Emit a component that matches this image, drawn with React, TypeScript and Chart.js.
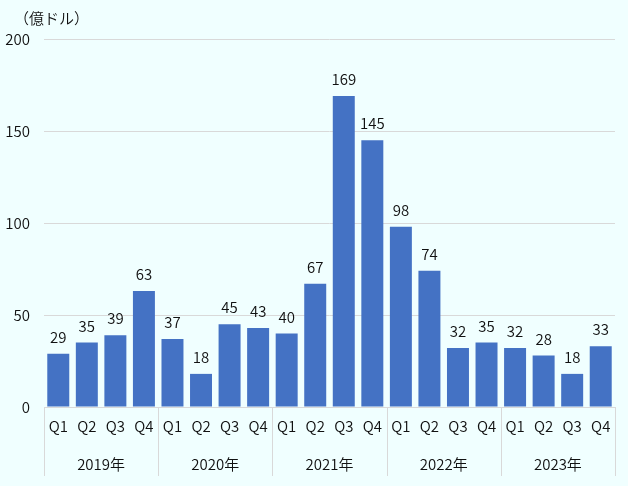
import { useEffect, useRef } from "react";
import { Chart, registerables } from "chart.js";

Chart.register(...registerables);

const quarters = [
  "Q1", "Q2", "Q3", "Q4", "Q1", "Q2", "Q3", "Q4", "Q1", "Q2",
  "Q3", "Q4", "Q1", "Q2", "Q3", "Q4", "Q1", "Q2", "Q3", "Q4",
];
const years = ["2019年", "2020年", "2021年", "2022年", "2023年"];
const values = [29, 35, 39, 63, 37, 18, 45, 43, 40, 67, 169, 145, 98, 74, 32, 35, 32, 28, 18, 33];
const yTicks = [0, 50, 100, 150, 200];
const unitLabel = "（億ドル）";

const FONT = "'Noto Sans CJK JP', 'Noto Sans', sans-serif";
const TEXT = "#111111";
const LINE = "#d9d9d9";
const WEIGHT = 350;

// draws value labels, year groups with separators, and the unit label
const extrasPlugin = {
  id: "extras",
  afterDatasetsDraw(chart: any) {
    const { ctx, scales } = chart;
    const x = scales.x;
    const meta = chart.getDatasetMeta(0);
    ctx.save();
    ctx.fillStyle = TEXT;
    ctx.font = `${WEIGHT} 15px ${FONT}`;
    ctx.textAlign = "center";
    ctx.textBaseline = "bottom";
    meta.data.forEach((bar: any, i: number) => {
      ctx.fillText(String(values[i]), bar.x, bar.y - 9);
    });

    const half = (x.getPixelForValue(1) - x.getPixelForValue(0)) / 2;
    const bottom = chart.chartArea.bottom;
    ctx.strokeStyle = LINE;
    ctx.lineWidth = 1;
    for (let g = 0; g <= years.length; g++) {
      const idx = Math.min(g * 4, quarters.length - 1);
      const px = g * 4 < quarters.length ? x.getPixelForValue(idx) - half : x.getPixelForValue(idx) + half;
      const xx = Math.round(px) + 0.5;
      ctx.beginPath();
      ctx.moveTo(xx, bottom);
      ctx.lineTo(xx, bottom + 69);
      ctx.stroke();
    }
    ctx.textBaseline = "middle";
    years.forEach((y, g) => {
      const cx = (x.getPixelForValue(g * 4) + x.getPixelForValue(g * 4 + 3)) / 2;
      ctx.fillText(y, cx, bottom + 57);
    });

    ctx.textAlign = "left";
    ctx.fillText(unitLabel, 14, 18);
    ctx.restore();
  },
};

export default function App() {
  const canvasRef = useRef<HTMLCanvasElement>(null);

  useEffect(() => {
    document.body.style.margin = "0";
    document.body.style.background = "#f0ffff";
    if (!canvasRef.current) return;
    const chart = new Chart(canvasRef.current, {
      type: "bar",
      data: {
        labels: quarters,
        datasets: [
          {
            data: values,
            backgroundColor: "#4472c4",
            barPercentage: 0.77,
            categoryPercentage: 1,
          },
        ],
      },
      options: {
        animation: false,
        responsive: true,
        maintainAspectRatio: false,
        layout: { padding: { top: 39, right: 13, left: 0, bottom: 0 } },
        plugins: { legend: { display: false }, tooltip: { enabled: false } },
        scales: {
          x: {
            grid: { display: false, drawTicks: false },
            border: { display: true, color: LINE },
            ticks: { color: TEXT, font: { family: FONT, size: 15, weight: WEIGHT }, padding: 10, maxRotation: 0, autoSkip: false },
            afterFit: (s: any) => {
              s.height = 79;
            },
          },
          y: {
            min: 0,
            max: 200,
            afterBuildTicks: (s: any) => {
              s.ticks = yTicks.map((v) => ({ value: v }));
            },
            grid: { color: LINE, drawTicks: false },
            border: { display: false },
            ticks: { color: TEXT, font: { family: FONT, size: 15, weight: WEIGHT }, padding: 14 },
            afterFit: (s: any) => {
              s.width = 44;
            },
          },
        },
      },
      plugins: [extrasPlugin],
    });
    return () => chart.destroy();
  }, []);

  return (
    <div style={{ width: 628, height: 486, background: "#f0ffff", position: "relative" }}>
      <canvas ref={canvasRef}></canvas>
    </div>
  );
}
